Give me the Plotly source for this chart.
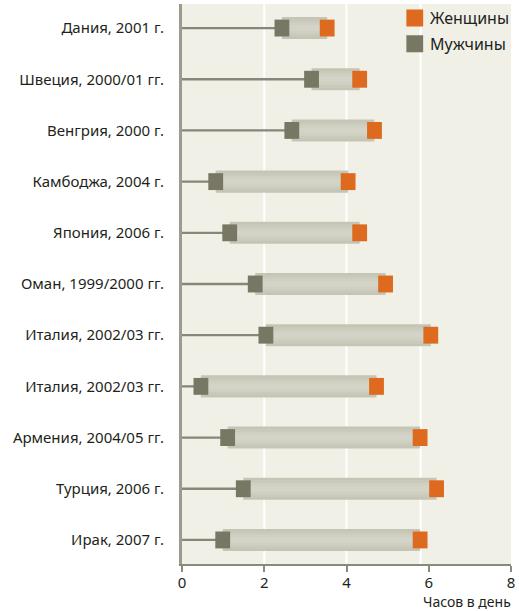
import plotly.graph_objects as go

categories = ["Дания, 2001 г.", "Швеция, 2000/01 гг.", "Венгрия, 2000 г.",
              "Камбоджа, 2004 г.", "Япония, 2006 г.", "Оман, 1999/2000 гг.",
              "Италия, 2002/03 гг.", "Италия, 2002/03 гг.", "Армения, 2004/05 гг.",
              "Турция, 2006 г.", "Ирак, 2007 г."]
men = [2.43, 3.15, 2.67, 0.82, 1.16, 1.78, 2.04, 0.46, 1.11, 1.49, 0.99]
women = [3.53, 4.32, 4.68, 4.04, 4.32, 4.95, 6.05, 4.73, 5.79, 6.19, 5.79]
x_ticks = [0, 2, 4, 6, 8]
grid_lines = [2, 4, 5.8]

pos = list(range(len(categories)))
FONT = "Noto Sans"
C_MEN = "#777763"
C_WOMEN = "#dd6a1e"
SQ_W = 0.36   # square width in hours
SQ_H = 0.33   # square height in row units

fig = go.Figure()

# thin line from 0 to men's value
fig.add_trace(go.Bar(orientation="h", y=pos, x=men, base=[0] * len(men), width=0.045,
                     marker=dict(color="#86867a", line=dict(width=0)),
                     hoverinfo="skip", showlegend=False))

# gray range bar with a stepped gradient
gap = [w - m for m, w in zip(men, women)]
for wdt, col in [(0.43, "#c5c5b6"), (0.33, "#cacabc"), (0.22, "#cfcfc2"), (0.11, "#d3d3c7")]:
    fig.add_trace(go.Bar(orientation="h", y=pos, x=gap, base=men, width=wdt,
                         marker=dict(color=col, line=dict(width=0)),
                         hoverinfo="skip", showlegend=False))

# squares
fig.add_trace(go.Bar(orientation="h", y=pos, x=[SQ_W] * len(men),
                     base=[m - SQ_W / 2 for m in men], width=SQ_H,
                     marker=dict(color=C_MEN, line=dict(width=0)),
                     name="Мужчины", showlegend=False))
fig.add_trace(go.Bar(orientation="h", y=pos, x=[SQ_W] * len(women),
                     base=[w - SQ_W / 2 for w in women], width=SQ_H,
                     marker=dict(color=C_WOMEN, line=dict(width=0)),
                     name="Женщины", showlegend=False))

# white grid lines (drawn below the marks)
for g in grid_lines:
    fig.add_shape(type="line", xref="x", yref="paper", x0=g, x1=g, y0=0, y1=1,
                  line=dict(color="white", width=2), layer="below")

fig.update_layout(
    width=519, height=611,
    margin=dict(l=182, r=4, t=4, b=47),
    barmode="overlay",
    paper_bgcolor="white",
    plot_bgcolor="#f0f0e7",
    font=dict(family=FONT, size=15, color="#231f20"),
    showlegend=False,
    xaxis=dict(range=[0, 8], tickvals=x_ticks, ticktext=[str(t) for t in x_ticks],
               showgrid=False, zeroline=False,
               showline=True, linecolor="#8a8a78", linewidth=2,
               ticks="outside", ticklen=6, tickcolor="#8a8a78", tickwidth=1.5,
               ticklabelstandoff=-2, ticklabeloverflow="allow",
               tickfont=dict(size=15, family=FONT), fixedrange=True),
    yaxis=dict(range=[10.47, -0.47], tickvals=pos, ticktext=categories,
               showgrid=False, zeroline=False,
               showline=True, linecolor="#9c9c8c", linewidth=3,
               ticks="", ticklabelstandoff=12,
               tickfont=dict(size=15, family=FONT), fixedrange=True),
)

# axis title
fig.add_annotation(text="Часов в день", xref="paper", yref="paper", x=1.0, y=0,
                   xanchor="right", yanchor="middle", yshift=-37, xshift=2,
                   showarrow=False,
                   font=dict(size=14, family=FONT, color="#231f20"))

# legend (manual)
legend_items = [("Женщины", C_WOMEN, 0.975), ("Мужчины", C_MEN, 0.929)]
for label, col, yc in legend_items:
    fig.add_shape(type="rect", xref="paper", yref="paper",
                  x0=0.682, x1=0.733, y0=yc - 0.0152, y1=yc + 0.0152,
                  fillcolor=col, line=dict(width=0))
    fig.add_annotation(text=label, xref="paper", yref="paper", x=0.748, y=yc,
                       xanchor="left", yanchor="middle", showarrow=False,
                       font=dict(size=16, family=FONT, color="#231f20"))

fig.write_html("out.html", config={"displayModeBar": False},
               post_script="document.body.style.margin='0';")
